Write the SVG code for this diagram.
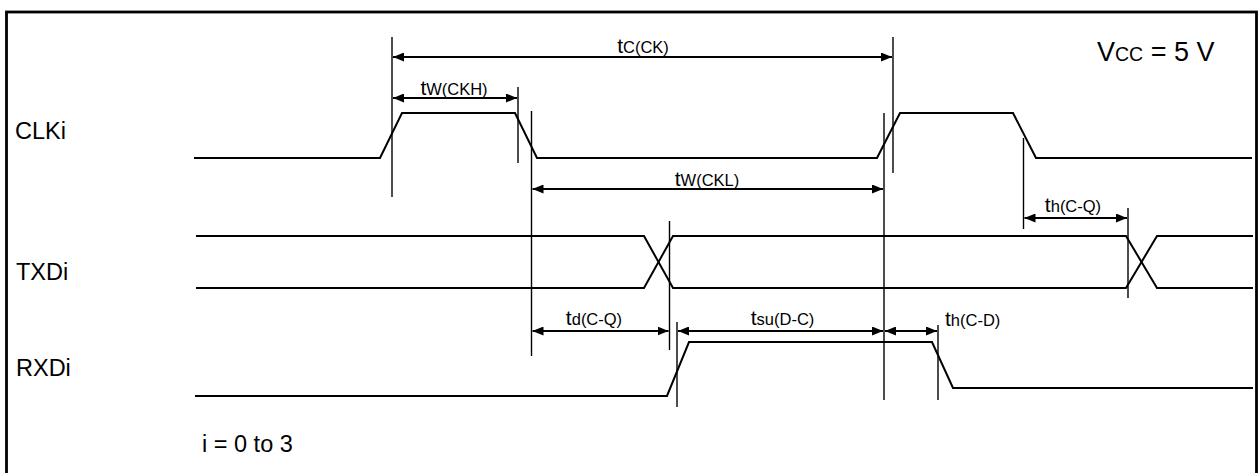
<svg xmlns="http://www.w3.org/2000/svg" width="1259" height="473" viewBox="0 0 1259 473">
<style>
text{font-family:"Liberation Sans",Arial,sans-serif;fill:#000}
.lbl{font-size:23.5px}
.t{font-size:21px}
.s{font-size:16.5px}
.wave{fill:none;stroke:#000;stroke-width:2;stroke-linejoin:miter}
.ref{stroke:#000;stroke-width:1.4;fill:none}
.dim{stroke:#000;stroke-width:2;fill:none;marker-start:url(#ah);marker-end:url(#ah)}
</style>
<defs>
<marker id="ah" viewBox="0 0 11 9" refX="11" refY="4.5" markerWidth="11" markerHeight="9" markerUnits="userSpaceOnUse" orient="auto-start-reverse">
<path d="M0,0 L11,4.5 L0,9 z" fill="#000"/>
</marker>
</defs>
<rect x="6.5" y="12" width="1250" height="470" fill="#fff" stroke="#000" stroke-width="2.8"/>

<g id="clk">
<text class="lbl" x="15" y="139">CLKi</text>
<path class="wave" d="M194,158 L380,158 L402,113 L515,113 L537,158 L877,158 L900,113 L1013,113 L1036,158 L1252,158"/>
</g>
<g id="txd">
<text class="lbl" x="16" y="280">TXDi</text>
<path class="wave" d="M196,236 L644,236 L673,288 L1126,288 L1157,236 L1253,236"/>
<path class="wave" d="M196,288 L644,288 L673,236 L1126,236 L1157,288 L1253,288"/>
</g>
<g id="rxd">
<text class="lbl" x="16" y="376">RXDi</text>
<path class="wave" d="M195,396 L667,396 L689,342 L932,342 L953,388 L1253,388"/>
</g>
<g id="vcc">
<text x="1097" y="61" style="font-size:27px">V<tspan style="font-size:19.5px">CC</tspan> = 5 V</text>
</g>
<g id="note">
<text class="lbl" x="202" y="452">i = 0 to 3</text>
</g>

<g id="connectors">
<line class="ref" x1="392" y1="37" x2="392" y2="197"/>
<line class="ref" x1="518" y1="87" x2="518" y2="163"/>
<line class="ref" x1="531.5" y1="111" x2="531.5" y2="356"/>
<line class="ref" x1="893" y1="37" x2="893" y2="173"/>
<line class="ref" x1="884" y1="113" x2="884" y2="400"/>
<line class="ref" x1="1023.5" y1="138" x2="1023.5" y2="229"/>
<line class="ref" x1="1128" y1="208" x2="1128" y2="298"/>
<line class="ref" x1="669.5" y1="221" x2="669.5" y2="350"/>
<line class="ref" x1="677" y1="322" x2="677" y2="407"/>
<line class="ref" x1="938" y1="325" x2="938" y2="400"/>

<line class="dim" x1="393" y1="57" x2="892" y2="57"/>
<line class="dim" x1="393" y1="98" x2="517" y2="98"/>
<line class="dim" x1="532.5" y1="189" x2="883" y2="189"/>
<line class="dim" x1="1024.5" y1="218" x2="1127" y2="218"/>
<line class="dim" x1="532.5" y1="331" x2="668.5" y2="331"/>
<line class="dim" x1="678" y1="331" x2="883" y2="331"/>
<line class="dim" x1="885" y1="331" x2="937" y2="331"/>
</g>

<g id="dim-labels">
<text x="643" y="53" text-anchor="middle"><tspan class="t">t</tspan><tspan class="s">C(CK)</tspan></text>
<text x="454" y="95" text-anchor="middle"><tspan class="t">t</tspan><tspan class="s">W(CKH)</tspan></text>
<text x="707" y="186" text-anchor="middle"><tspan class="t">t</tspan><tspan class="s">W(CKL)</tspan></text>
<text x="1073" y="212" text-anchor="middle"><tspan class="t">t</tspan><tspan class="s">h(C-Q)</tspan></text>
<text x="594" y="325" text-anchor="middle"><tspan class="t">t</tspan><tspan class="s">d(C-Q)</tspan></text>
<text x="782.5" y="325" text-anchor="middle"><tspan class="t">t</tspan><tspan class="s">su(D-C)</tspan></text>
<text x="945" y="326"><tspan class="t">t</tspan><tspan class="s">h(C-D)</tspan></text>
</g>
</svg>
